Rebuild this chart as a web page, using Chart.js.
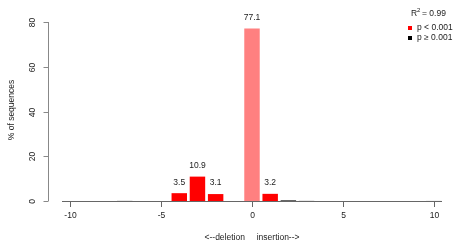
<!DOCTYPE html>
<html>
<head>
<meta charset="utf-8">
<script src="https://cdn.jsdelivr.net/npm/chart.js@4.4.1/dist/chart.umd.min.js"></script>
<style>
  html, body { margin: 0; padding: 0; background: #fff; }
  canvas { display: block; }
</style>
</head>
<body>
<canvas id="chart" width="456" height="251"></canvas>
<script>
// indel sizes and % of sequences
const sizes = [-10, -9, -8, -7, -6, -5, -4, -3, -2, -1, 0, 1, 2, 3, 4, 5, 6, 7, 8, 9, 10];
const percents = [0, 0, 0, 0.2, 0, 0, 3.5, 10.9, 3.1, 0, 77.1, 3.2, 0.4, 0.2, 0, 0, 0, 0, 0, 0, 0.1];
// bar classes: "sig" p<0.001, "wt" unmodified, "ns" p>=0.001 (dark), "lo" faint
const barClass = ["lo", "lo", "lo", "lo", "lo", "lo", "sig", "sig", "sig", "lo", "wt", "sig", "ns", "lo", "lo", "lo", "lo", "lo", "lo", "lo", "lo"];
const labelled = [-4, -3, -2, 0, 1];
const xTicks = [-10, -5, 0, 5, 10];
const yTicks = [0, 20, 40, 60, 80];
const rSquared = "0.99";

const classColor = { sig: "#ff0000", wt: "#ff8080", ns: "#555555", lo: "#cccccc" };
const FONT = "Liberation Sans, Arial, sans-serif";

const axesPlugin = {
  id: "rAxes",
  afterDatasetsDraw(chart) {
    const ctx = chart.ctx;
    const xs = chart.scales.x;
    const ys = chart.scales.y;
    const area = chart.chartArea;
    const y0 = ys.getPixelForValue(0);
    ctx.save();

    // baseline
    ctx.strokeStyle = "#666";
    ctx.lineWidth = 1;
    ctx.beginPath();
    ctx.moveTo(area.left, Math.round(y0) + 0.5);
    ctx.lineTo(area.right, Math.round(y0) + 0.5);
    ctx.stroke();

    // x ticks
    ctx.fillStyle = "#222";
    ctx.font = "8.5px " + FONT;
    ctx.textAlign = "center";
    ctx.textBaseline = "middle";
    xTicks.forEach(t => {
      const px = Math.round(xs.getPixelForValue(t)) + 0.5;
      ctx.beginPath();
      ctx.moveTo(px, y0 + 1);
      ctx.lineTo(px, y0 + 6);
      ctx.stroke();
      ctx.fillText(String(t), px, 216);
    });

    // y axis
    const yAxisX = 48.5;
    ctx.strokeStyle = "#888";
    ctx.beginPath();
    ctx.moveTo(yAxisX, ys.getPixelForValue(80));
    ctx.lineTo(yAxisX, ys.getPixelForValue(0));
    ctx.stroke();
    yTicks.forEach(t => {
      const py = Math.round(ys.getPixelForValue(t)) + 0.5;
      ctx.beginPath();
      ctx.moveTo(yAxisX, py);
      ctx.lineTo(yAxisX - 5, py);
      ctx.stroke();
      ctx.save();
      ctx.translate(33, py);
      ctx.rotate(-Math.PI / 2);
      ctx.fillText(String(t), 0, 0);
      ctx.restore();
    });

    // axis titles
    ctx.save();
    ctx.translate(12, 110);
    ctx.rotate(-Math.PI / 2);
    ctx.fillText("% of sequences", 0, 0);
    ctx.restore();
    ctx.fillText("<--deletion     insertion-->", 252, 238);

    // value labels
    const meta = chart.getDatasetMeta(0);
    meta.data.forEach((bar, i) => {
      if (labelled.includes(sizes[i])) {
        ctx.fillText(percents[i].toFixed(1), bar.x, bar.y - 11);
      }
    });

    // legend
    ctx.textAlign = "left";
    ctx.fillText("R", 411, 14);
    ctx.font = "6px " + FONT;
    ctx.fillText("2", 417, 10);
    ctx.font = "8.5px " + FONT;
    ctx.fillText("= " + rSquared, 422, 14);
    ctx.fillStyle = "#ff0000";
    ctx.fillRect(408, 26, 4, 4);
    ctx.fillStyle = "#000";
    ctx.fillRect(408, 36, 4, 4);
    ctx.fillStyle = "#222";
    ctx.fillText("p < 0.001", 417, 28);
    ctx.fillText("p \u2265 0.001", 417, 38);

    ctx.restore();
  }
};

new Chart(document.getElementById("chart"), {
  type: "bar",
  data: {
    datasets: [{
      data: sizes.map((s, i) => ({ x: s, y: percents[i] })),
      backgroundColor: barClass.map(c => classColor[c]),
      borderWidth: 0,
      barPercentage: 0.85,
      categoryPercentage: 1
    }]
  },
  options: {
    responsive: false,
    animation: false,
    layout: { padding: { left: 62, right: 14, top: 22, bottom: 50 } },
    plugins: { legend: { display: false }, tooltip: { enabled: false } },
    scales: {
      x: { type: "linear", min: -10.45, max: 10.45, offset: false, display: false },
      y: { min: 0, max: 80, display: false }
    }
  },
  plugins: [axesPlugin]
});
</script>
</body>
</html>
